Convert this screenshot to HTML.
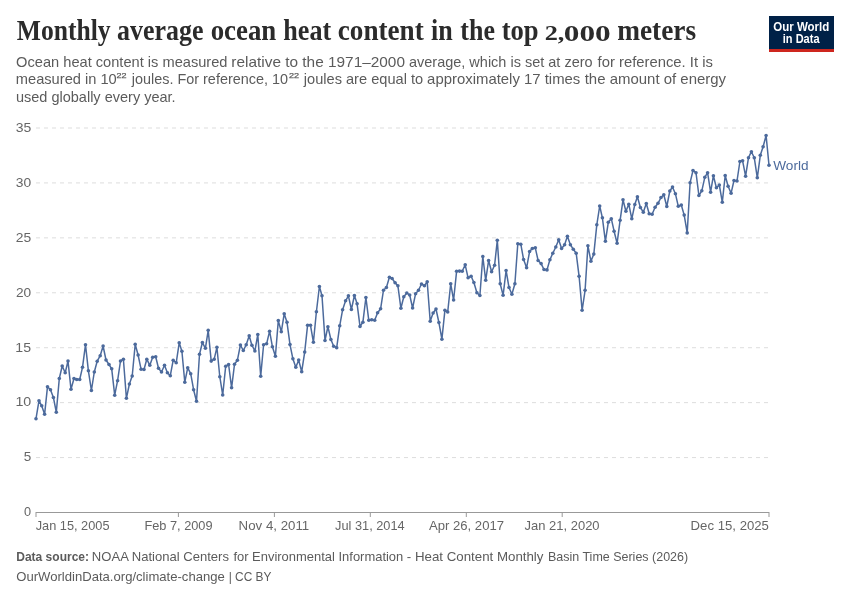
<!DOCTYPE html>
<html lang="en"><head><meta charset="utf-8"><title>Monthly average ocean heat content in the top 2,000 meters</title>
<style>
html,body{margin:0;padding:0;background:#fff;}
body{width:850px;height:600px;overflow:hidden;}
svg{display:block;font-family:"Liberation Sans",sans-serif;}
.title{font-family:"Liberation Serif",serif;font-weight:700;font-size:28.8px;fill:#2b2b2b;}
.sub{font-size:14.3px;fill:#5b5b5b;}
.sup{font-size:8px;fill:#5b5b5b;stroke:#5b5b5b;stroke-width:0.25px;}
.ax{font-size:12.8px;fill:#666;}
.ay{font-size:13.5px;fill:#666;}
.foot{font-size:13px;fill:#5b5b5b;}
.logo{font-size:12px;font-weight:700;fill:#fff;}
.world{font-size:13px;fill:#4c6a9c;}
</style></head><body>
<svg width="850" height="600" viewBox="0 0 850 600">
<rect width="850" height="600" fill="#fff"/>
<rect x="769" y="16" width="65" height="36" fill="#002147"/>
<rect x="769" y="49" width="65" height="3" fill="#ce261e"/>
<g stroke="#ddd" stroke-width="1" stroke-dasharray="4 4"><line x1="36" x2="769" y1="457.57" y2="457.57"/><line x1="36" x2="769" y1="402.64" y2="402.64"/><line x1="36" x2="769" y1="347.71" y2="347.71"/><line x1="36" x2="769" y1="292.79" y2="292.79"/><line x1="36" x2="769" y1="237.86" y2="237.86"/><line x1="36" x2="769" y1="182.93" y2="182.93"/><line x1="36" x2="769" y1="128.00" y2="128.00"/></g>
<line x1="36" x2="769" y1="512.5" y2="512.5" stroke="#999" stroke-width="1"/>
<g stroke="#999" stroke-width="1"><line x1="36.0" x2="36.0" y1="512" y2="517"/><line x1="178.4" x2="178.4" y1="512" y2="517"/><line x1="274.4" x2="274.4" y1="512" y2="517"/><line x1="370.3" x2="370.3" y1="512" y2="517"/><line x1="466.3" x2="466.3" y1="512" y2="517"/><line x1="562.2" x2="562.2" y1="512" y2="517"/><line x1="769.0" x2="769.0" y1="512" y2="517"/></g>
<path d="M36.0,418.7 L39.0,400.7 L41.7,405.8 L44.6,414.3 L47.5,386.7 L50.5,389.7 L53.4,397.5 L56.3,412.2 L59.3,378.5 L62.2,366.0 L65.2,372.8 L68.0,361.0 L71.0,389.3 L74.0,378.5 L76.7,379.5 L79.7,379.5 L82.5,367.3 L85.5,344.7 L88.4,370.8 L91.4,390.5 L94.3,372.0 L97.2,361.2 L100.2,355.7 L103.1,346.0 L106.0,360.0 L109.0,364.5 L111.7,368.8 L114.7,395.2 L117.6,380.7 L120.5,361.0 L123.4,359.2 L126.4,398.3 L129.4,384.0 L132.2,376.0 L135.2,344.2 L138.1,355.0 L141.1,369.3 L144.0,369.5 L146.8,359.2 L149.8,365.3 L152.7,357.2 L155.7,356.8 L158.5,368.3 L161.5,372.0 L164.5,365.3 L167.4,372.7 L170.3,375.7 L173.2,360.2 L176.2,362.8 L179.2,342.8 L181.9,351.2 L184.8,382.2 L187.7,367.8 L190.7,373.7 L193.6,389.7 L196.5,401.2 L199.5,354.3 L202.4,342.5 L205.4,348.3 L208.2,330.3 L211.2,361.1 L214.2,359.2 L216.9,347.3 L219.8,376.7 L222.7,395.0 L225.7,366.2 L228.6,364.5 L231.6,387.8 L234.5,364.3 L237.4,360.2 L240.4,345.0 L243.3,350.5 L246.2,344.8 L249.2,335.8 L251.9,345.2 L254.9,351.0 L257.8,334.5 L260.7,376.3 L263.6,344.7 L266.6,343.8 L269.6,331.2 L272.4,346.7 L275.4,356.2 L278.3,320.6 L281.3,331.8 L284.2,313.8 L287.0,322.3 L290.0,344.6 L292.9,358.8 L295.8,367.2 L298.7,360.1 L301.7,371.7 L304.7,352.1 L307.6,325.2 L310.5,325.3 L313.4,342.2 L316.4,311.7 L319.4,286.5 L322.0,295.8 L325.0,340.5 L327.9,326.7 L330.9,339.5 L333.7,346.2 L336.7,347.7 L339.7,325.8 L342.6,309.8 L345.6,300.8 L348.4,295.8 L351.4,309.5 L354.4,295.5 L357.1,303.8 L360.0,326.4 L362.9,322.2 L365.9,297.5 L368.8,320.3 L371.7,319.7 L374.7,320.2 L377.6,312.7 L380.6,308.8 L383.5,290.2 L386.4,287.5 L389.4,277.2 L392.1,278.5 L395.1,282.7 L397.9,285.8 L400.9,308.3 L403.8,296.8 L406.8,293.0 L409.7,295.0 L412.6,308.0 L415.6,293.7 L418.5,290.3 L421.5,284.0 L424.4,285.7 L427.2,281.7 L430.2,321.3 L433.1,313.0 L436.0,309.0 L438.9,322.5 L441.9,339.2 L444.9,310.3 L447.7,312.0 L450.7,283.8 L453.6,300.0 L456.6,271.3 L459.5,271.1 L462.2,271.2 L465.2,264.8 L468.1,277.8 L471.1,276.2 L473.9,282.5 L476.9,292.8 L479.9,295.5 L482.8,256.5 L485.7,280.3 L488.6,260.5 L491.6,271.8 L494.6,265.2 L497.3,240.3 L500.2,283.8 L503.1,295.3 L506.1,270.5 L509.0,287.5 L511.9,294.3 L514.9,283.7 L517.8,243.7 L520.8,244.2 L523.6,259.5 L526.6,267.8 L529.6,251.5 L532.3,248.5 L535.3,247.8 L538.1,260.5 L541.1,263.6 L544.0,269.5 L547.0,269.9 L549.9,259.7 L552.8,253.3 L555.8,247.0 L558.7,239.7 L561.6,248.5 L564.6,244.7 L567.4,236.3 L570.4,244.7 L573.3,249.3 L576.2,253.3 L579.1,276.3 L582.1,310.3 L585.1,290.3 L587.9,245.7 L590.9,261.2 L593.8,254.1 L596.8,224.8 L599.7,206.0 L602.4,217.8 L605.4,241.3 L608.3,222.3 L611.3,218.7 L614.1,231.2 L617.1,243.2 L620.1,220.3 L623.0,199.8 L625.9,211.3 L628.8,204.2 L631.8,218.8 L634.8,204.5 L637.4,196.7 L640.4,207.5 L643.3,212.2 L646.3,203.5 L649.2,213.7 L652.1,214.3 L655.1,207.2 L658.0,203.3 L661.0,197.5 L663.8,194.7 L666.8,206.5 L669.8,191.0 L672.5,187.0 L675.4,193.7 L678.3,206.3 L681.3,205.0 L684.2,215.1 L687.2,232.9 L690.1,182.7 L693.0,170.5 L696.0,172.7 L698.9,195.5 L701.8,190.8 L704.8,177.3 L707.6,172.7 L710.6,192.2 L713.4,175.7 L716.4,187.7 L719.3,185.0 L722.3,202.2 L725.2,175.5 L728.1,186.3 L731.1,193.2 L734.0,180.5 L737.0,181.0 L739.9,161.5 L742.6,160.8 L745.6,176.2 L748.5,157.7 L751.4,151.7 L754.3,157.8 L757.3,177.8 L760.3,155.3 L763.1,146.7 L766.1,135.5 L769.0,165.3" fill="none" stroke="#fff" stroke-width="3.3" stroke-linejoin="round" stroke-linecap="round"/>
<path d="M36.0,418.7 L39.0,400.7 L41.7,405.8 L44.6,414.3 L47.5,386.7 L50.5,389.7 L53.4,397.5 L56.3,412.2 L59.3,378.5 L62.2,366.0 L65.2,372.8 L68.0,361.0 L71.0,389.3 L74.0,378.5 L76.7,379.5 L79.7,379.5 L82.5,367.3 L85.5,344.7 L88.4,370.8 L91.4,390.5 L94.3,372.0 L97.2,361.2 L100.2,355.7 L103.1,346.0 L106.0,360.0 L109.0,364.5 L111.7,368.8 L114.7,395.2 L117.6,380.7 L120.5,361.0 L123.4,359.2 L126.4,398.3 L129.4,384.0 L132.2,376.0 L135.2,344.2 L138.1,355.0 L141.1,369.3 L144.0,369.5 L146.8,359.2 L149.8,365.3 L152.7,357.2 L155.7,356.8 L158.5,368.3 L161.5,372.0 L164.5,365.3 L167.4,372.7 L170.3,375.7 L173.2,360.2 L176.2,362.8 L179.2,342.8 L181.9,351.2 L184.8,382.2 L187.7,367.8 L190.7,373.7 L193.6,389.7 L196.5,401.2 L199.5,354.3 L202.4,342.5 L205.4,348.3 L208.2,330.3 L211.2,361.1 L214.2,359.2 L216.9,347.3 L219.8,376.7 L222.7,395.0 L225.7,366.2 L228.6,364.5 L231.6,387.8 L234.5,364.3 L237.4,360.2 L240.4,345.0 L243.3,350.5 L246.2,344.8 L249.2,335.8 L251.9,345.2 L254.9,351.0 L257.8,334.5 L260.7,376.3 L263.6,344.7 L266.6,343.8 L269.6,331.2 L272.4,346.7 L275.4,356.2 L278.3,320.6 L281.3,331.8 L284.2,313.8 L287.0,322.3 L290.0,344.6 L292.9,358.8 L295.8,367.2 L298.7,360.1 L301.7,371.7 L304.7,352.1 L307.6,325.2 L310.5,325.3 L313.4,342.2 L316.4,311.7 L319.4,286.5 L322.0,295.8 L325.0,340.5 L327.9,326.7 L330.9,339.5 L333.7,346.2 L336.7,347.7 L339.7,325.8 L342.6,309.8 L345.6,300.8 L348.4,295.8 L351.4,309.5 L354.4,295.5 L357.1,303.8 L360.0,326.4 L362.9,322.2 L365.9,297.5 L368.8,320.3 L371.7,319.7 L374.7,320.2 L377.6,312.7 L380.6,308.8 L383.5,290.2 L386.4,287.5 L389.4,277.2 L392.1,278.5 L395.1,282.7 L397.9,285.8 L400.9,308.3 L403.8,296.8 L406.8,293.0 L409.7,295.0 L412.6,308.0 L415.6,293.7 L418.5,290.3 L421.5,284.0 L424.4,285.7 L427.2,281.7 L430.2,321.3 L433.1,313.0 L436.0,309.0 L438.9,322.5 L441.9,339.2 L444.9,310.3 L447.7,312.0 L450.7,283.8 L453.6,300.0 L456.6,271.3 L459.5,271.1 L462.2,271.2 L465.2,264.8 L468.1,277.8 L471.1,276.2 L473.9,282.5 L476.9,292.8 L479.9,295.5 L482.8,256.5 L485.7,280.3 L488.6,260.5 L491.6,271.8 L494.6,265.2 L497.3,240.3 L500.2,283.8 L503.1,295.3 L506.1,270.5 L509.0,287.5 L511.9,294.3 L514.9,283.7 L517.8,243.7 L520.8,244.2 L523.6,259.5 L526.6,267.8 L529.6,251.5 L532.3,248.5 L535.3,247.8 L538.1,260.5 L541.1,263.6 L544.0,269.5 L547.0,269.9 L549.9,259.7 L552.8,253.3 L555.8,247.0 L558.7,239.7 L561.6,248.5 L564.6,244.7 L567.4,236.3 L570.4,244.7 L573.3,249.3 L576.2,253.3 L579.1,276.3 L582.1,310.3 L585.1,290.3 L587.9,245.7 L590.9,261.2 L593.8,254.1 L596.8,224.8 L599.7,206.0 L602.4,217.8 L605.4,241.3 L608.3,222.3 L611.3,218.7 L614.1,231.2 L617.1,243.2 L620.1,220.3 L623.0,199.8 L625.9,211.3 L628.8,204.2 L631.8,218.8 L634.8,204.5 L637.4,196.7 L640.4,207.5 L643.3,212.2 L646.3,203.5 L649.2,213.7 L652.1,214.3 L655.1,207.2 L658.0,203.3 L661.0,197.5 L663.8,194.7 L666.8,206.5 L669.8,191.0 L672.5,187.0 L675.4,193.7 L678.3,206.3 L681.3,205.0 L684.2,215.1 L687.2,232.9 L690.1,182.7 L693.0,170.5 L696.0,172.7 L698.9,195.5 L701.8,190.8 L704.8,177.3 L707.6,172.7 L710.6,192.2 L713.4,175.7 L716.4,187.7 L719.3,185.0 L722.3,202.2 L725.2,175.5 L728.1,186.3 L731.1,193.2 L734.0,180.5 L737.0,181.0 L739.9,161.5 L742.6,160.8 L745.6,176.2 L748.5,157.7 L751.4,151.7 L754.3,157.8 L757.3,177.8 L760.3,155.3 L763.1,146.7 L766.1,135.5 L769.0,165.3" fill="none" stroke="#4c6a9c" stroke-width="1.5" stroke-linejoin="round" stroke-linecap="round"/>
<g fill="#4c6a9c"><circle cx="36.0" cy="418.7" r="1.8"/><circle cx="39.0" cy="400.7" r="1.8"/><circle cx="41.7" cy="405.8" r="1.8"/><circle cx="44.6" cy="414.3" r="1.8"/><circle cx="47.5" cy="386.7" r="1.8"/><circle cx="50.5" cy="389.7" r="1.8"/><circle cx="53.4" cy="397.5" r="1.8"/><circle cx="56.3" cy="412.2" r="1.8"/><circle cx="59.3" cy="378.5" r="1.8"/><circle cx="62.2" cy="366.0" r="1.8"/><circle cx="65.2" cy="372.8" r="1.8"/><circle cx="68.0" cy="361.0" r="1.8"/><circle cx="71.0" cy="389.3" r="1.8"/><circle cx="74.0" cy="378.5" r="1.8"/><circle cx="76.7" cy="379.5" r="1.8"/><circle cx="79.7" cy="379.5" r="1.8"/><circle cx="82.5" cy="367.3" r="1.8"/><circle cx="85.5" cy="344.7" r="1.8"/><circle cx="88.4" cy="370.8" r="1.8"/><circle cx="91.4" cy="390.5" r="1.8"/><circle cx="94.3" cy="372.0" r="1.8"/><circle cx="97.2" cy="361.2" r="1.8"/><circle cx="100.2" cy="355.7" r="1.8"/><circle cx="103.1" cy="346.0" r="1.8"/><circle cx="106.0" cy="360.0" r="1.8"/><circle cx="109.0" cy="364.5" r="1.8"/><circle cx="111.7" cy="368.8" r="1.8"/><circle cx="114.7" cy="395.2" r="1.8"/><circle cx="117.6" cy="380.7" r="1.8"/><circle cx="120.5" cy="361.0" r="1.8"/><circle cx="123.4" cy="359.2" r="1.8"/><circle cx="126.4" cy="398.3" r="1.8"/><circle cx="129.4" cy="384.0" r="1.8"/><circle cx="132.2" cy="376.0" r="1.8"/><circle cx="135.2" cy="344.2" r="1.8"/><circle cx="138.1" cy="355.0" r="1.8"/><circle cx="141.1" cy="369.3" r="1.8"/><circle cx="144.0" cy="369.5" r="1.8"/><circle cx="146.8" cy="359.2" r="1.8"/><circle cx="149.8" cy="365.3" r="1.8"/><circle cx="152.7" cy="357.2" r="1.8"/><circle cx="155.7" cy="356.8" r="1.8"/><circle cx="158.5" cy="368.3" r="1.8"/><circle cx="161.5" cy="372.0" r="1.8"/><circle cx="164.5" cy="365.3" r="1.8"/><circle cx="167.4" cy="372.7" r="1.8"/><circle cx="170.3" cy="375.7" r="1.8"/><circle cx="173.2" cy="360.2" r="1.8"/><circle cx="176.2" cy="362.8" r="1.8"/><circle cx="179.2" cy="342.8" r="1.8"/><circle cx="181.9" cy="351.2" r="1.8"/><circle cx="184.8" cy="382.2" r="1.8"/><circle cx="187.7" cy="367.8" r="1.8"/><circle cx="190.7" cy="373.7" r="1.8"/><circle cx="193.6" cy="389.7" r="1.8"/><circle cx="196.5" cy="401.2" r="1.8"/><circle cx="199.5" cy="354.3" r="1.8"/><circle cx="202.4" cy="342.5" r="1.8"/><circle cx="205.4" cy="348.3" r="1.8"/><circle cx="208.2" cy="330.3" r="1.8"/><circle cx="211.2" cy="361.1" r="1.8"/><circle cx="214.2" cy="359.2" r="1.8"/><circle cx="216.9" cy="347.3" r="1.8"/><circle cx="219.8" cy="376.7" r="1.8"/><circle cx="222.7" cy="395.0" r="1.8"/><circle cx="225.7" cy="366.2" r="1.8"/><circle cx="228.6" cy="364.5" r="1.8"/><circle cx="231.6" cy="387.8" r="1.8"/><circle cx="234.5" cy="364.3" r="1.8"/><circle cx="237.4" cy="360.2" r="1.8"/><circle cx="240.4" cy="345.0" r="1.8"/><circle cx="243.3" cy="350.5" r="1.8"/><circle cx="246.2" cy="344.8" r="1.8"/><circle cx="249.2" cy="335.8" r="1.8"/><circle cx="251.9" cy="345.2" r="1.8"/><circle cx="254.9" cy="351.0" r="1.8"/><circle cx="257.8" cy="334.5" r="1.8"/><circle cx="260.7" cy="376.3" r="1.8"/><circle cx="263.6" cy="344.7" r="1.8"/><circle cx="266.6" cy="343.8" r="1.8"/><circle cx="269.6" cy="331.2" r="1.8"/><circle cx="272.4" cy="346.7" r="1.8"/><circle cx="275.4" cy="356.2" r="1.8"/><circle cx="278.3" cy="320.6" r="1.8"/><circle cx="281.3" cy="331.8" r="1.8"/><circle cx="284.2" cy="313.8" r="1.8"/><circle cx="287.0" cy="322.3" r="1.8"/><circle cx="290.0" cy="344.6" r="1.8"/><circle cx="292.9" cy="358.8" r="1.8"/><circle cx="295.8" cy="367.2" r="1.8"/><circle cx="298.7" cy="360.1" r="1.8"/><circle cx="301.7" cy="371.7" r="1.8"/><circle cx="304.7" cy="352.1" r="1.8"/><circle cx="307.6" cy="325.2" r="1.8"/><circle cx="310.5" cy="325.3" r="1.8"/><circle cx="313.4" cy="342.2" r="1.8"/><circle cx="316.4" cy="311.7" r="1.8"/><circle cx="319.4" cy="286.5" r="1.8"/><circle cx="322.0" cy="295.8" r="1.8"/><circle cx="325.0" cy="340.5" r="1.8"/><circle cx="327.9" cy="326.7" r="1.8"/><circle cx="330.9" cy="339.5" r="1.8"/><circle cx="333.7" cy="346.2" r="1.8"/><circle cx="336.7" cy="347.7" r="1.8"/><circle cx="339.7" cy="325.8" r="1.8"/><circle cx="342.6" cy="309.8" r="1.8"/><circle cx="345.6" cy="300.8" r="1.8"/><circle cx="348.4" cy="295.8" r="1.8"/><circle cx="351.4" cy="309.5" r="1.8"/><circle cx="354.4" cy="295.5" r="1.8"/><circle cx="357.1" cy="303.8" r="1.8"/><circle cx="360.0" cy="326.4" r="1.8"/><circle cx="362.9" cy="322.2" r="1.8"/><circle cx="365.9" cy="297.5" r="1.8"/><circle cx="368.8" cy="320.3" r="1.8"/><circle cx="371.7" cy="319.7" r="1.8"/><circle cx="374.7" cy="320.2" r="1.8"/><circle cx="377.6" cy="312.7" r="1.8"/><circle cx="380.6" cy="308.8" r="1.8"/><circle cx="383.5" cy="290.2" r="1.8"/><circle cx="386.4" cy="287.5" r="1.8"/><circle cx="389.4" cy="277.2" r="1.8"/><circle cx="392.1" cy="278.5" r="1.8"/><circle cx="395.1" cy="282.7" r="1.8"/><circle cx="397.9" cy="285.8" r="1.8"/><circle cx="400.9" cy="308.3" r="1.8"/><circle cx="403.8" cy="296.8" r="1.8"/><circle cx="406.8" cy="293.0" r="1.8"/><circle cx="409.7" cy="295.0" r="1.8"/><circle cx="412.6" cy="308.0" r="1.8"/><circle cx="415.6" cy="293.7" r="1.8"/><circle cx="418.5" cy="290.3" r="1.8"/><circle cx="421.5" cy="284.0" r="1.8"/><circle cx="424.4" cy="285.7" r="1.8"/><circle cx="427.2" cy="281.7" r="1.8"/><circle cx="430.2" cy="321.3" r="1.8"/><circle cx="433.1" cy="313.0" r="1.8"/><circle cx="436.0" cy="309.0" r="1.8"/><circle cx="438.9" cy="322.5" r="1.8"/><circle cx="441.9" cy="339.2" r="1.8"/><circle cx="444.9" cy="310.3" r="1.8"/><circle cx="447.7" cy="312.0" r="1.8"/><circle cx="450.7" cy="283.8" r="1.8"/><circle cx="453.6" cy="300.0" r="1.8"/><circle cx="456.6" cy="271.3" r="1.8"/><circle cx="459.5" cy="271.1" r="1.8"/><circle cx="462.2" cy="271.2" r="1.8"/><circle cx="465.2" cy="264.8" r="1.8"/><circle cx="468.1" cy="277.8" r="1.8"/><circle cx="471.1" cy="276.2" r="1.8"/><circle cx="473.9" cy="282.5" r="1.8"/><circle cx="476.9" cy="292.8" r="1.8"/><circle cx="479.9" cy="295.5" r="1.8"/><circle cx="482.8" cy="256.5" r="1.8"/><circle cx="485.7" cy="280.3" r="1.8"/><circle cx="488.6" cy="260.5" r="1.8"/><circle cx="491.6" cy="271.8" r="1.8"/><circle cx="494.6" cy="265.2" r="1.8"/><circle cx="497.3" cy="240.3" r="1.8"/><circle cx="500.2" cy="283.8" r="1.8"/><circle cx="503.1" cy="295.3" r="1.8"/><circle cx="506.1" cy="270.5" r="1.8"/><circle cx="509.0" cy="287.5" r="1.8"/><circle cx="511.9" cy="294.3" r="1.8"/><circle cx="514.9" cy="283.7" r="1.8"/><circle cx="517.8" cy="243.7" r="1.8"/><circle cx="520.8" cy="244.2" r="1.8"/><circle cx="523.6" cy="259.5" r="1.8"/><circle cx="526.6" cy="267.8" r="1.8"/><circle cx="529.6" cy="251.5" r="1.8"/><circle cx="532.3" cy="248.5" r="1.8"/><circle cx="535.3" cy="247.8" r="1.8"/><circle cx="538.1" cy="260.5" r="1.8"/><circle cx="541.1" cy="263.6" r="1.8"/><circle cx="544.0" cy="269.5" r="1.8"/><circle cx="547.0" cy="269.9" r="1.8"/><circle cx="549.9" cy="259.7" r="1.8"/><circle cx="552.8" cy="253.3" r="1.8"/><circle cx="555.8" cy="247.0" r="1.8"/><circle cx="558.7" cy="239.7" r="1.8"/><circle cx="561.6" cy="248.5" r="1.8"/><circle cx="564.6" cy="244.7" r="1.8"/><circle cx="567.4" cy="236.3" r="1.8"/><circle cx="570.4" cy="244.7" r="1.8"/><circle cx="573.3" cy="249.3" r="1.8"/><circle cx="576.2" cy="253.3" r="1.8"/><circle cx="579.1" cy="276.3" r="1.8"/><circle cx="582.1" cy="310.3" r="1.8"/><circle cx="585.1" cy="290.3" r="1.8"/><circle cx="587.9" cy="245.7" r="1.8"/><circle cx="590.9" cy="261.2" r="1.8"/><circle cx="593.8" cy="254.1" r="1.8"/><circle cx="596.8" cy="224.8" r="1.8"/><circle cx="599.7" cy="206.0" r="1.8"/><circle cx="602.4" cy="217.8" r="1.8"/><circle cx="605.4" cy="241.3" r="1.8"/><circle cx="608.3" cy="222.3" r="1.8"/><circle cx="611.3" cy="218.7" r="1.8"/><circle cx="614.1" cy="231.2" r="1.8"/><circle cx="617.1" cy="243.2" r="1.8"/><circle cx="620.1" cy="220.3" r="1.8"/><circle cx="623.0" cy="199.8" r="1.8"/><circle cx="625.9" cy="211.3" r="1.8"/><circle cx="628.8" cy="204.2" r="1.8"/><circle cx="631.8" cy="218.8" r="1.8"/><circle cx="634.8" cy="204.5" r="1.8"/><circle cx="637.4" cy="196.7" r="1.8"/><circle cx="640.4" cy="207.5" r="1.8"/><circle cx="643.3" cy="212.2" r="1.8"/><circle cx="646.3" cy="203.5" r="1.8"/><circle cx="649.2" cy="213.7" r="1.8"/><circle cx="652.1" cy="214.3" r="1.8"/><circle cx="655.1" cy="207.2" r="1.8"/><circle cx="658.0" cy="203.3" r="1.8"/><circle cx="661.0" cy="197.5" r="1.8"/><circle cx="663.8" cy="194.7" r="1.8"/><circle cx="666.8" cy="206.5" r="1.8"/><circle cx="669.8" cy="191.0" r="1.8"/><circle cx="672.5" cy="187.0" r="1.8"/><circle cx="675.4" cy="193.7" r="1.8"/><circle cx="678.3" cy="206.3" r="1.8"/><circle cx="681.3" cy="205.0" r="1.8"/><circle cx="684.2" cy="215.1" r="1.8"/><circle cx="687.2" cy="232.9" r="1.8"/><circle cx="690.1" cy="182.7" r="1.8"/><circle cx="693.0" cy="170.5" r="1.8"/><circle cx="696.0" cy="172.7" r="1.8"/><circle cx="698.9" cy="195.5" r="1.8"/><circle cx="701.8" cy="190.8" r="1.8"/><circle cx="704.8" cy="177.3" r="1.8"/><circle cx="707.6" cy="172.7" r="1.8"/><circle cx="710.6" cy="192.2" r="1.8"/><circle cx="713.4" cy="175.7" r="1.8"/><circle cx="716.4" cy="187.7" r="1.8"/><circle cx="719.3" cy="185.0" r="1.8"/><circle cx="722.3" cy="202.2" r="1.8"/><circle cx="725.2" cy="175.5" r="1.8"/><circle cx="728.1" cy="186.3" r="1.8"/><circle cx="731.1" cy="193.2" r="1.8"/><circle cx="734.0" cy="180.5" r="1.8"/><circle cx="737.0" cy="181.0" r="1.8"/><circle cx="739.9" cy="161.5" r="1.8"/><circle cx="742.6" cy="160.8" r="1.8"/><circle cx="745.6" cy="176.2" r="1.8"/><circle cx="748.5" cy="157.7" r="1.8"/><circle cx="751.4" cy="151.7" r="1.8"/><circle cx="754.3" cy="157.8" r="1.8"/><circle cx="757.3" cy="177.8" r="1.8"/><circle cx="760.3" cy="155.3" r="1.8"/><circle cx="763.1" cy="146.7" r="1.8"/><circle cx="766.1" cy="135.5" r="1.8"/><circle cx="769.0" cy="165.3" r="1.8"/></g>
<text class="title" x="16.73" y="40.2" textLength="93.87" lengthAdjust="spacingAndGlyphs">Monthly</text>
<text class="title" x="117.05" y="40.2" textLength="86.40" lengthAdjust="spacingAndGlyphs">average</text>
<text class="title" x="210.68" y="40.2" textLength="65.55" lengthAdjust="spacingAndGlyphs">ocean</text>
<text class="title" x="283.30" y="40.2" textLength="47.84" lengthAdjust="spacingAndGlyphs">heat</text>
<text class="title" x="337.79" y="40.2" textLength="85.88" lengthAdjust="spacingAndGlyphs">content</text>
<text class="title" x="431.05" y="40.2" textLength="21.69" lengthAdjust="spacingAndGlyphs">in</text>
<text class="title" x="460.37" y="40.2" textLength="34.56" lengthAdjust="spacingAndGlyphs">the</text>
<text class="title" x="501.68" y="40.2" textLength="36.96" lengthAdjust="spacingAndGlyphs">top</text>
<text class="title" x="617.14" y="40.2" textLength="78.91" lengthAdjust="spacingAndGlyphs">meters</text>
<text class="title" x="544.66" y="40.2" textLength="19.73" lengthAdjust="spacingAndGlyphs" style="font-size:21px">2,</text>
<text class="title" x="563.75" y="40.5" textLength="46.89" lengthAdjust="spacingAndGlyphs" style="font-size:22.5px">000</text>
<text class="sub" x="16.11" y="66.7" textLength="211.39" lengthAdjust="spacingAndGlyphs">Ocean heat content is measured</text>
<text class="sub" x="231.39" y="66.7" textLength="173.61" lengthAdjust="spacingAndGlyphs">relative to the 1971–2000</text>
<text class="sub" x="408.94" y="66.7" textLength="183.64" lengthAdjust="spacingAndGlyphs">average, which is set at zero</text>
<text class="sub" x="597.57" y="66.7" textLength="115.35" lengthAdjust="spacingAndGlyphs">for reference. It is</text>
<text class="sub" x="15.79" y="84.2" textLength="101.00" lengthAdjust="spacingAndGlyphs">measured in 10</text>
<text class="sub" x="131.72" y="84.2" textLength="156.34" lengthAdjust="spacingAndGlyphs">joules. For reference, 10</text>
<text class="sub" x="303.79" y="84.2" textLength="119.33" lengthAdjust="spacingAndGlyphs">joules are equal to</text>
<text class="sub" x="427.12" y="84.2" textLength="153.19" lengthAdjust="spacingAndGlyphs">approximately 17 times</text>
<text class="sub" x="584.68" y="84.2" textLength="141.44" lengthAdjust="spacingAndGlyphs">the amount of energy</text>
<text class="sup" x="116.62" y="78.4" textLength="10.02" lengthAdjust="spacingAndGlyphs">22</text>
<text class="sup" x="288.98" y="78.4" textLength="10.13" lengthAdjust="spacingAndGlyphs">22</text>
<text class="sub" x="15.92" y="102.2" textLength="159.74" lengthAdjust="spacingAndGlyphs">used globally every year.</text>
<text class="logo" x="773.33" y="30.8" textLength="55.99" lengthAdjust="spacingAndGlyphs">Our World</text>
<text class="logo" x="782.82" y="42.7" textLength="36.69" lengthAdjust="spacingAndGlyphs">in Data</text>
<text class="ax" x="35.68" y="530.1" textLength="73.83" lengthAdjust="spacingAndGlyphs">Jan 15, 2005</text>
<text class="ax" x="144.43" y="530.1" textLength="68.15" lengthAdjust="spacingAndGlyphs">Feb 7, 2009</text>
<text class="ax" x="238.61" y="530.1" textLength="70.61" lengthAdjust="spacingAndGlyphs">Nov 4, 2011</text>
<text class="ax" x="335.04" y="530.1" textLength="69.63" lengthAdjust="spacingAndGlyphs">Jul 31, 2014</text>
<text class="ax" x="428.95" y="530.1" textLength="75.08" lengthAdjust="spacingAndGlyphs">Apr 26, 2017</text>
<text class="ax" x="524.54" y="530.1" textLength="75.04" lengthAdjust="spacingAndGlyphs">Jan 21, 2020</text>
<text class="ax" x="690.61" y="530.1" textLength="78.33" lengthAdjust="spacingAndGlyphs">Dec 15, 2025</text>
<text class="ay" x="24.11" y="516.3" textLength="7.08" lengthAdjust="spacingAndGlyphs">0</text>
<text class="ay" x="23.78" y="461.4" textLength="7.51" lengthAdjust="spacingAndGlyphs">5</text>
<text class="ay" x="15.40" y="406.4" textLength="15.86" lengthAdjust="spacingAndGlyphs">10</text>
<text class="ay" x="15.39" y="351.5" textLength="15.75" lengthAdjust="spacingAndGlyphs">15</text>
<text class="ay" x="15.90" y="296.6" textLength="15.24" lengthAdjust="spacingAndGlyphs">20</text>
<text class="ay" x="15.88" y="241.7" textLength="15.45" lengthAdjust="spacingAndGlyphs">25</text>
<text class="ay" x="15.72" y="186.7" textLength="15.39" lengthAdjust="spacingAndGlyphs">30</text>
<text class="ay" x="15.72" y="131.8" textLength="15.58" lengthAdjust="spacingAndGlyphs">35</text>
<text class="world" x="773.27" y="169.7" textLength="35.26" lengthAdjust="spacingAndGlyphs">World</text>
<text class="foot" x="16.22" y="560.7" textLength="72.80" lengthAdjust="spacingAndGlyphs" font-weight="700">Data source:</text>
<text class="foot" x="91.89" y="560.7" textLength="137.07" lengthAdjust="spacingAndGlyphs">NOAA National Centers</text>
<text class="foot" x="233.39" y="560.7" textLength="169.91" lengthAdjust="spacingAndGlyphs">for Environmental Information</text>
<text class="foot" x="406.85" y="560.7" textLength="136.63" lengthAdjust="spacingAndGlyphs">- Heat Content Monthly</text>
<text class="foot" x="548.00" y="560.7" textLength="140.12" lengthAdjust="spacingAndGlyphs">Basin Time Series (2026)</text>
<text class="foot" x="16.29" y="580.7" textLength="208.53" lengthAdjust="spacingAndGlyphs">OurWorldinData.org/climate-change</text>
<text class="foot" x="228.70" y="580.7" textLength="42.81" lengthAdjust="spacingAndGlyphs">| CC BY</text>
</svg>
</body></html>
